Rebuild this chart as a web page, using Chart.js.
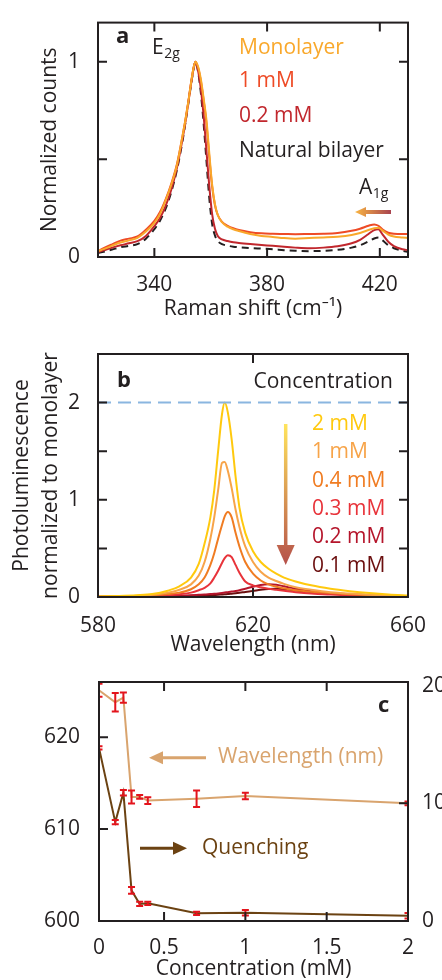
<!DOCTYPE html>
<html>
<head>
<meta charset="utf-8">
<script src="https://cdn.jsdelivr.net/npm/chart.js@4.4.1/dist/chart.umd.min.js"></script>
<style>
html,body{margin:0;padding:0;background:#fff;}
body{width:442px;height:980px;position:relative;overflow:hidden;}
canvas{position:absolute;left:0;display:block;}
#chartA{top:0;}
#chartB{top:330px;}
#chartC{top:650px;}
</style>
</head>
<body>
<canvas id="chartA" width="442" height="330"></canvas>
<canvas id="chartB" width="442" height="340"></canvas>
<canvas id="chartC" width="442" height="330"></canvas>
<script>
// ---- panel a: Raman spectra ----
const ramanShift = [320, 322, 325, 328, 331, 334, 337, 340, 342, 344, 346, 348, 350, 351, 352, 353, 354, 354.6, 355.5, 356.5, 357.5, 358.5, 359.5, 360.5, 361.5, 362.5, 364, 366, 368, 370, 374, 378, 382, 386, 390, 395, 400, 405, 410, 413, 416, 418, 419.5, 421, 423, 425, 428, 430];
const ramanMonolayer = [.03, .04, .058, .074, .085, .098, .13, .175, .22, .29, .37, .47, .62, .70, .79, .89, .975, 1.0, .975, .91, .81, .70, .53, .37, .27, .215, .178, .155, .142, .133, .118, .108, .103, .097, .094, .097, .1, .104, .113, .123, .138, .147, .15, .135, .115, .105, .1, .097];
const raman1mM = [.03, .045, .065, .084, .094, .105, .14, .185, .23, .295, .375, .475, .62, .70, .79, .89, .975, 1.0, .97, .9, .8, .68, .51, .36, .265, .215, .18, .16, .147, .138, .127, .121, .119, .118, .117, .118, .119, .123, .134, .145, .16, .167, .16, .14, .124, .119, .118, .118];
const raman02mM = [.025, .034, .048, .06, .07, .081, .108, .158, .2, .262, .345, .455, .605, .69, .785, .885, .97, 1.0, .955, .86, .72, .54, .36, .22, .145, .108, .09, .082, .076, .072, .066, .061, .057, .052, .048, .045, .048, .055, .07, .088, .118, .138, .142, .115, .078, .056, .04, .035];
const ramanBilayer = [.02, .027, .038, .05, .057, .066, .094, .142, .186, .248, .333, .445, .595, .685, .78, .88, .968, 1.0, .95, .84, .68, .49, .3, .17, .11, .082, .066, .058, .053, .05, .046, .043, .04, .035, .032, .03, .032, .037, .048, .06, .08, .095, .1, .085, .06, .045, .032, .027];
const ramanTicks = [340, 380, 420];
const ramanTickLabels = ['340', '380', '420'];
const countTicks = [0, 0.5, 1];
const countTickLabels = ['0', '', '1'];

// ---- panel b: photoluminescence ----
const wavelength = [580, 585, 590, 594, 598, 601, 604, 606, 607.5, 609, 610, 611, 612, 612.7, 613.5, 614.5, 615.5, 616.5, 618, 620, 622, 624, 626, 628, 631, 635, 640, 645, 650, 655, 660];
const pl2mM = [.005, .01, .018, .03, .065, .11, .2, .34, .55, .82, 1.1, 1.5, 1.88, 2.0, 1.9, 1.62, 1.24, .92, .66, .47, .36, .29, .24, .2, .16, .12, .085, .06, .04, .025, .015];
const pl1mM = [.004, .008, .014, .022, .045, .075, .13, .22, .36, .6, .82, 1.1, 1.38, 1.39, 1.3, 1.12, .9, .72, .52, .36, .26, .2, .165, .135, .1, .075, .05, .035, .024, .016, .01];
const pl04mM = [.003, .006, .01, .016, .03, .045, .08, .13, .2, .33, .45, .6, .74, .83, .875, .82, .66, .52, .36, .24, .17, .13, .105, .09, .07, .055, .04, .028, .018, .012, .008];
const pl03mM = [.002, .004, .007, .011, .018, .028, .045, .07, .095, .14, .2, .27, .35, .4, .43, .41, .33, .25, .16, .12, .1, .085, .075, .065, .05, .035, .025, .018, .012, .008, .005];
const pl02mM = [.002, .003, .005, .008, .011, .014, .018, .022, .025, .03, .033, .037, .042, .046, .05, .056, .062, .07, .085, .105, .123, .13, .125, .11, .085, .06, .04, .028, .018, .012, .008];
const pl01mM = [.001, .002, .003, .005, .007, .009, .012, .014, .016, .019, .021, .023, .026, .028, .03, .034, .038, .043, .052, .063, .075, .083, .085, .08, .068, .052, .036, .025, .017, .011, .007];
const monolayerRefX = [580, 660];
const monolayerRefY = [2, 2];
const wlTicks = [580, 620, 660];
const wlTickLabels = ['580', '620', '660'];
const plTicks = [0, 0.5, 1, 1.5, 2];
const plTickLabels = ['0', '', '1', '', '2'];

// ---- panel c: peak wavelength and quenching vs concentration ----
const concentration = [0.1, 0.2, 0.25, 0.3, 0.35, 0.4, 0.7, 1, 2];
const peakWavelength = [625.1, 623.8, 624.3, 613.5, 613.5, 613.1, 613.3, 613.6, 612.8];
const peakWavelengthErr = [0.6, 0.9, 0.45, 0.6, 0.1, 0.25, 0.8, 0.25, 0.1];
const quenching = [14.7, 8.4, 10.9, 2.6, 1.45, 1.5, 0.65, 0.7, 0.45];
const quenchingErr = [0.05, 0.1, 0.15, 0.2, 0.1, 0.05, 0.05, 0.15, 0.15];
const concTicks = [0.1, 0.5, 1, 1.5, 2];
const concTickLabels = ['0', '0.5', '1', '1.5', '2'];
const wlLeftTicks = [600, 610, 620];
const wlLeftTickLabels = ['600', '610', '620'];
const quenchTicks = [0, 10, 20];
const quenchTickLabels = ['0', '10', '20'];

const FONT = '"Open Sans", "Noto Sans", sans-serif';
const INK = '#231f20';
const pts = (xs, ys) => xs.map((x, i) => ({x: x, y: ys[i]}));

function axis(pos, min, max, ticks, labels, size, pad, title) {
  return {
    type: 'linear', position: pos, min: min, max: max,
    grid: {display: false}, border: {display: false},
    afterBuildTicks: s => { s.ticks = ticks.map(v => ({value: v})); },
    afterFit: s => { if (s.isHorizontal()) s.height = size; else s.width = size; },
    ticks: {
      autoSkip: false, maxRotation: 0, padding: pad, color: INK,
      font: {family: FONT, size: 21, lineHeight: 1.2},
      callback: v => labels[ticks.indexOf(v)]
    },
    title: title ? Object.assign({display: true, color: INK}, title) : {display: false}
  };
}

function makeFrame(mirrorY) {
  return {
    id: 'frame',
    afterDatasetsDraw(chart) {
      const ctx = chart.ctx, a = chart.chartArea, L = 9;
      ctx.save();
      ctx.strokeStyle = INK;
      ctx.lineWidth = 2;
      ctx.beginPath();
      Object.values(chart.scales).forEach(s => {
        s.ticks.forEach(t => {
          const p = s.getPixelForValue(t.value);
          if (s.isHorizontal()) {
            if (p < a.left + 2 || p > a.right - 2) return;
            ctx.moveTo(p, a.bottom); ctx.lineTo(p, a.bottom - L);
            ctx.moveTo(p, a.top); ctx.lineTo(p, a.top + L);
          } else {
            if (p < a.top + 4 || p > a.bottom - 2) return;
            if (s.position === 'left' || mirrorY) { ctx.moveTo(a.left, p); ctx.lineTo(a.left + L, p); }
            if (s.position === 'right' || mirrorY) { ctx.moveTo(a.right, p); ctx.lineTo(a.right - L, p); }
          }
        });
      });
      ctx.stroke();
      ctx.strokeRect(a.left, a.top, a.right - a.left, a.bottom - a.top);
      ctx.restore();
    }
  };
}

function text(ctx, str, x, y, color, opt) {
  opt = opt || {};
  ctx.font = (opt.bold ? 'bold ' : '') + (opt.size || 21) + 'px ' + FONT;
  ctx.fillStyle = color;
  ctx.textAlign = opt.align || 'left';
  ctx.textBaseline = 'alphabetic';
  ctx.fillText(str, x, y);
}

function subText(ctx, main, sub, x, y) {
  text(ctx, main, x, y, INK);
  const w = ctx.measureText(main).width;
  text(ctx, sub, x + w + 0.5, y + 4, INK, {size: 14});
}

function arrow(ctx, x1, y1, x2, y2, color, width, head, half) {
  // from (x1,y1) to tip (x2,y2)
  const ang = Math.atan2(y2 - y1, x2 - x1);
  const bx = x2 - Math.cos(ang) * head, by = y2 - Math.sin(ang) * head;
  ctx.save();
  ctx.strokeStyle = color; ctx.fillStyle = color; ctx.lineWidth = width;
  ctx.beginPath(); ctx.moveTo(x1, y1); ctx.lineTo(bx, by); ctx.stroke();
  ctx.beginPath();
  ctx.moveTo(x2, y2);
  ctx.lineTo(bx - Math.sin(ang) * half, by + Math.cos(ang) * half);
  ctx.lineTo(bx + Math.sin(ang) * half, by - Math.cos(ang) * half);
  ctx.closePath(); ctx.fill();
  ctx.restore();
}

function annotations(draw) {
  return {id: 'annotations', afterDatasetsDraw(chart) { chart.ctx.save(); draw(chart.ctx); chart.ctx.restore(); }};
}

const errorBars = {
  id: 'errorBars',
  afterDatasetsDraw(chart) {
    const ctx = chart.ctx, a = chart.chartArea;
    ctx.save();
    ctx.beginPath(); ctx.rect(a.left, a.top, a.right - a.left, a.bottom - a.top); ctx.clip();
    ctx.strokeStyle = '#e3141c'; ctx.lineWidth = 2;
    chart.data.datasets.forEach(ds => {
      if (!ds.errors) return;
      const xs = chart.scales.x, ys = chart.scales[ds.yAxisID];
      ds.data.forEach((p, j) => {
        const e = ds.errors[j];
        const px = xs.getPixelForValue(p.x);
        const top = ys.getPixelForValue(p.y + e) - 1, bot = ys.getPixelForValue(p.y - e) + 1;
        ctx.beginPath();
        ctx.moveTo(px, top); ctx.lineTo(px, bot);
        ctx.moveTo(px - 3.5, top); ctx.lineTo(px + 3.5, top);
        ctx.moveTo(px - 3.5, bot); ctx.lineTo(px + 3.5, bot);
        ctx.stroke();
      });
    });
    ctx.restore();
  }
};

const common = {
  responsive: false, animation: false, events: [],
  plugins: {legend: {display: false}, tooltip: {enabled: false}},
  elements: {point: {radius: 0}, line: {borderWidth: 2, cubicInterpolationMode: 'monotone'}}
};

// panel a
new Chart(document.getElementById('chartA'), {
  type: 'line',
  data: {datasets: [
    {data: pts(ramanShift, ramanMonolayer), borderColor: '#f9a82b'},
    {data: pts(ramanShift, raman1mM), borderColor: '#ee4b26'},
    {data: pts(ramanShift, raman02mM), borderColor: '#c1272d'},
    {data: pts(ramanShift, ramanBilayer), borderColor: INK, borderDash: [7, 5]}
  ]},
  options: Object.assign({}, common, {
    layout: {padding: {top: 15, right: 34, left: 0, bottom: 0}},
    scales: {
      x: axis('bottom', 320, 430, ramanTicks, ramanTickLabels, 73, 7,
        {text: 'Raman shift (cm\u207B\u00B9)', font: {family: FONT, size: 21, lineHeight: 1.2}, padding: {top: 0, bottom: 8}}),
      y: axis('left', 0, 1.2, countTicks, countTickLabels, 98, 10,
        {text: 'Normalized counts', font: {family: FONT, size: 21, lineHeight: 1.2}, padding: {top: 37, bottom: 0}})
    }
  }),
  plugins: [makeFrame(true), annotations(ctx => {
    text(ctx, 'a', 116, 43, INK, {bold: true, size: 22});
    subText(ctx, 'E', '2g', 152, 54);
    text(ctx, 'Monolayer', 239, 54, '#f9a82b');
    text(ctx, '1 mM', 239, 87, '#ee4b26');
    text(ctx, '0.2 mM', 239, 122, '#c1272d');
    text(ctx, 'Natural bilayer', 239, 157, INK);
    subText(ctx, 'A', '1g', 359, 194);
    const g = ctx.createLinearGradient(355, 0, 391, 0);
    g.addColorStop(0, '#f9b543'); g.addColorStop(1, '#a8434f');
    arrow(ctx, 391, 212, 355, 212, g, 4, 11, 5);
  })]
});

// panel b
new Chart(document.getElementById('chartB'), {
  type: 'line',
  data: {datasets: [
    {data: pts(monolayerRefX, monolayerRefY), borderColor: '#8ab6e0', borderDash: [13, 7], cubicInterpolationMode: 'default', tension: 0},
    {data: pts(wavelength, pl2mM), borderColor: '#ffc90e'},
    {data: pts(wavelength, pl1mM), borderColor: '#f7a449'},
    {data: pts(wavelength, pl04mM), borderColor: '#f07c22'},
    {data: pts(wavelength, pl03mM), borderColor: '#e8333a'},
    {data: pts(wavelength, pl02mM), borderColor: '#b5152b'},
    {data: pts(wavelength, pl01mM), borderColor: '#6b0f0f'}
  ]},
  options: Object.assign({}, common, {
    layout: {padding: {top: 24, right: 34, left: 0, bottom: 0}},
    scales: {
      x: axis('bottom', 580, 660, wlTicks, wlTickLabels, 73, 8,
        {text: 'Wavelength (nm)', font: {family: FONT, size: 21, lineHeight: 1.2}, padding: {top: 0, bottom: 12}}),
      y: axis('left', 0, 2.5, plTicks, plTickLabels, 98, 10,
        {text: ['Photoluminescence', 'normalized to monolayer'], font: {family: FONT, size: 21, lineHeight: 1.38}, padding: {top: 8, bottom: 0}})
    }
  }),
  plugins: [makeFrame(true), annotations(ctx => {
    text(ctx, 'b', 117, 57, INK, {bold: true, size: 22});
    text(ctx, 'Concentration', 393, 58, INK, {align: 'right'});
    const names = ['2 mM', '1 mM', '0.4 mM', '0.3 mM', '0.2 mM', '0.1 mM'];
    const cols = ['#ffc90e', '#f7a449', '#f07c22', '#e8333a', '#b5152b', '#6b0f0f'];
    names.forEach((n, i) => text(ctx, n, 312, 100 + i * 28.3, cols[i]));
    const g = ctx.createLinearGradient(0, 94, 0, 235);
    g.addColorStop(0, '#ffe45c'); g.addColorStop(1, '#b5504a');
    arrow(ctx, 285.7, 94, 285.7, 235, g, 3.5, 20, 9);
  })]
});

// panel c
new Chart(document.getElementById('chartC'), {
  type: 'line',
  data: {datasets: [
    {data: pts(concentration, peakWavelength), errors: peakWavelengthErr, yAxisID: 'yL', borderColor: '#d9a46e', tension: 0, cubicInterpolationMode: 'default'},
    {data: pts(concentration, quenching), errors: quenchingErr, yAxisID: 'yR', borderColor: '#6b4212', tension: 0, cubicInterpolationMode: 'default'}
  ]},
  options: Object.assign({}, common, {
    layout: {padding: {top: 32, right: 0, left: 0, bottom: 0}},
    scales: {
      x: axis('bottom', 0.1, 2, concTicks, concTickLabels, 59, 6,
        {text: 'Concentration (mM)', font: {family: FONT, size: 21, lineHeight: 1}, padding: {top: 0, bottom: 0}}),
      yL: axis('left', 600, 626, wlLeftTicks, wlLeftTickLabels, 99, 11, null),
      yR: axis('right', 0, 20.3, quenchTicks, quenchTickLabels, 34, 6, null)
    }
  }),
  plugins: [errorBars, makeFrame(false), annotations(ctx => {
    text(ctx, 'c', 378, 62, INK, {bold: true, size: 22});
    text(ctx, 'Wavelength (nm)', 218, 113, '#d9a46e');
    arrow(ctx, 206, 107.7, 149, 107.7, '#d9a46e', 3, 14, 6.5);
    text(ctx, 'Quenching', 202, 204, '#6b4212');
    arrow(ctx, 140, 198.3, 187, 198.3, '#6b4212', 3, 14, 6.5);
  })]
});
</script>
</body>
</html>
